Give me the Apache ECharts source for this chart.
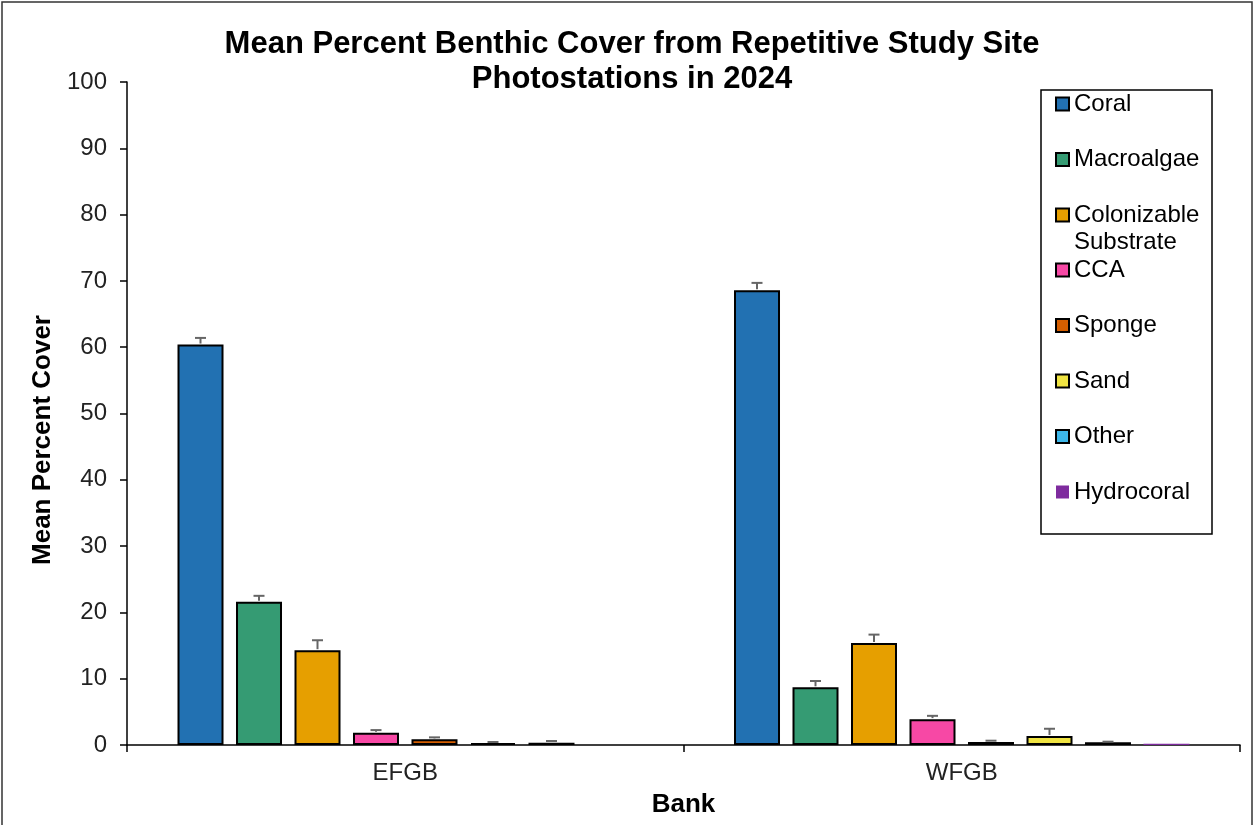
<!DOCTYPE html>
<html>
<head>
<meta charset="utf-8">
<script src="https://cdn.jsdelivr.net/npm/echarts@6/dist/echarts.min.js"></script>
<style>
  html, body { margin: 0; padding: 0; background: #fff; }
  #chart { width: 1255px; height: 825px; }
</style>
</head>
<body>
<div id="chart"></div>
<script>
// ---- data ----
const banks = ['EFGB', 'WFGB'];
const seriesNames = ['Coral', 'Macroalgae', 'Colonizable Substrate', 'CCA', 'Sponge', 'Sand', 'Other', 'Hydrocoral'];
const coral = [60.4, 68.6];
const macroalgae = [21.6, 8.7];
const colonizable = [14.3, 15.4];
const cca = [1.85, 3.9];
const sponge = [0.85, 0.45];
const sand = [0.3, 1.35];
const other = [0.35, 0.4];
const hydrocoral = [0, 0.2];
const coralErr = [1.0, 1.1];
const macroalgaeErr = [0.9, 0.95];
const colonizableErr = [1.5, 1.25];
const ccaErr = [0.4, 0.5];
const spongeErr = [0.3, 0.2];
const sandErr = [0.15, 1.1];
const otherErr = [0.25, 0.1];
const hydrocoralErr = [0, 0];
const yTicks = [0, 10, 20, 30, 40, 50, 60, 70, 80, 90, 100];

const values = [coral, macroalgae, colonizable, cca, sponge, sand, other, hydrocoral];
const errors = [coralErr, macroalgaeErr, colonizableErr, ccaErr, spongeErr, sandErr, otherErr, hydrocoralErr];
const colors = ['#2271B2', '#359B73', '#E69F00', '#F748A5', '#D55E00', '#F0E442', '#3DB7E9', '#7E2B9E'];

const BAR_W = 46;
const BAR_GAP = 12.5;
const FONT = 'Liberation Sans, Arial, sans-serif';

const barSeries = seriesNames.map((name, i) => ({
  name: name,
  type: 'bar',
  data: values[i],
  barWidth: BAR_W,
  barGap: (BAR_GAP / BAR_W * 100).toFixed(2) + '%',
  itemStyle: {
    color: colors[i],
    borderColor: '#000',
    borderWidth: name === 'Hydrocoral' ? 0 : 2
  },
  emphasis: { disabled: true }
}));

const errData = [];
errors.forEach((arr, s) => {
  arr.forEach((e, c) => { errData.push([c, values[s][c], e, s]); });
});

const errSeries = {
  name: 'Error',
  type: 'custom',
  z: 5,
  encode: { x: 0, y: 1 },
  data: errData,
  renderItem: function (params, api) {
    const c = api.value(0), m = api.value(1), e = api.value(2), s = api.value(3);
    if (!e) return;
    const n = seriesNames.length;
    const base = api.coord([c, m]);
    const x = base[0] + (s - (n - 1) / 2) * (BAR_W + BAR_GAP);
    const yTop = api.coord([c, m + e])[1];
    const st = { stroke: '#666', lineWidth: 2 };
    return {
      type: 'group',
      children: [
        { type: 'line', shape: { x1: x, y1: base[1] - 1, x2: x, y2: yTop }, style: st },
        { type: 'line', shape: { x1: x - 5.5, y1: yTop, x2: x + 5.5, y2: yTop }, style: st }
      ]
    };
  }
};

const legendCommon = {
  orient: 'vertical',
  left: 1055,
  padding: 0,
  itemWidth: 13,
  itemHeight: 13,
  itemGap: 28.5,
  icon: 'rect',
  selectedMode: false,
  textStyle: { fontFamily: FONT, fontSize: 24, color: '#000', lineHeight: 27 }
};

const option = {
  animation: false,
  backgroundColor: '#fff',
  title: {
    text: 'Mean Percent Benthic Cover from Repetitive Study Site\nPhotostations in 2024',
    left: 627,
    textAlign: 'center',
    top: 22,
    textStyle: { fontFamily: FONT, fontSize: 31, fontWeight: 'bold', color: '#000', lineHeight: 35 }
  },
  legend: [
    Object.assign({}, legendCommon, { top: 90.5, data: ['Coral', 'Macroalgae'] }),
    Object.assign({}, legendCommon, {
      top: 174.5,
      data: ['Colonizable Substrate'],
      formatter: function () { return '\nColonizable\nSubstrate'; }
    }),
    Object.assign({}, legendCommon, { top: 256.5, data: ['CCA', 'Sponge', 'Sand', 'Other', 'Hydrocoral'] })
  ],
  grid: { left: 127, right: 15, top: 82, bottom: 80, containLabel: false, outerBoundsMode: 'none' },
  xAxis: {
    type: 'category',
    data: banks,
    axisLine: { lineStyle: { color: '#000', width: 1.5 } },
    axisTick: { show: true, length: 7, lineStyle: { color: '#000', width: 1.5 } },
    axisLabel: { fontFamily: FONT, fontSize: 24, color: '#222', margin: 16 },
    name: 'Bank',
    nameLocation: 'middle',
    nameGap: 47,
    nameTextStyle: { fontFamily: FONT, fontSize: 26, fontWeight: 'bold', color: '#000' }
  },
  yAxis: {
    type: 'value',
    min: yTicks[0],
    max: yTicks[yTicks.length - 1],
    interval: yTicks[1] - yTicks[0],
    splitLine: { show: false },
    axisLine: { show: true, lineStyle: { color: '#000', width: 1.5 } },
    axisTick: { show: true, length: 7, lineStyle: { color: '#000', width: 1.5 } },
    axisLabel: { fontFamily: FONT, fontSize: 24, color: '#222', margin: 20 },
    name: 'Mean Percent Cover',
    nameLocation: 'middle',
    nameGap: 67,
    nameTextStyle: { fontFamily: FONT, fontSize: 26, fontWeight: 'bold', color: '#000', padding: [0, 53, 0, 0] }
  },
  graphic: [
    { type: 'rect', shape: { x: 2, y: 2, width: 1250, height: 840 }, style: { fill: null, stroke: '#333', lineWidth: 1.5 }, silent: true, z: -1 },
    { type: 'rect', shape: { x: 1041, y: 90, width: 171, height: 444 }, style: { fill: null, stroke: '#000', lineWidth: 1.5 }, silent: true }
  ],
  series: barSeries.concat([errSeries])
};

const chart = echarts.init(document.getElementById('chart'), null, { renderer: 'canvas' });
chart.setOption(option);
</script>
</body>
</html>
